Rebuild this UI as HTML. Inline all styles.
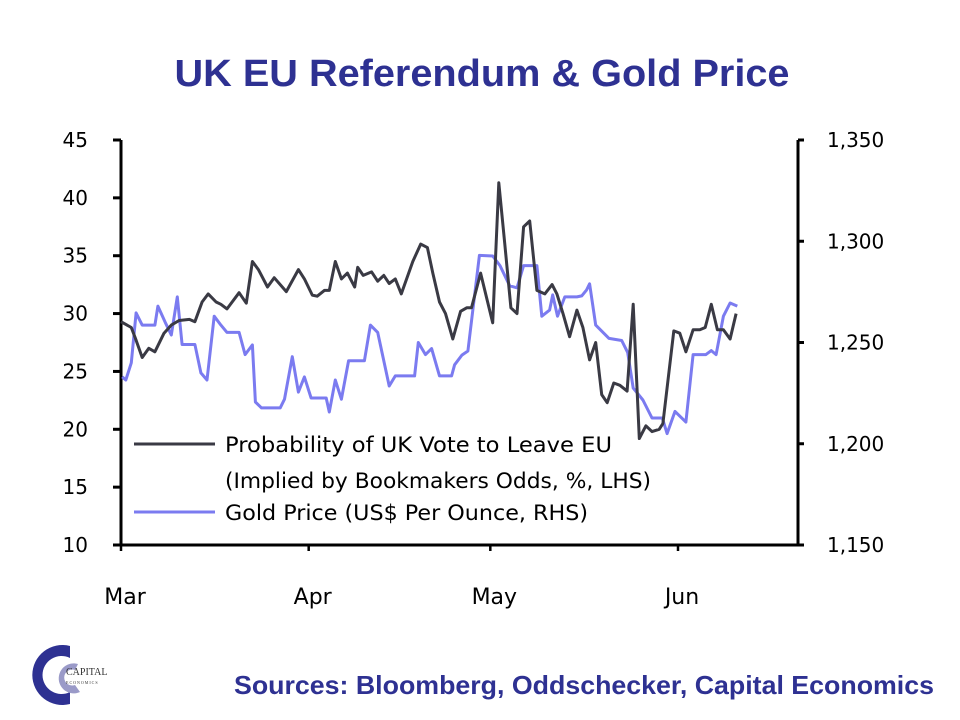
<!DOCTYPE html>
<html><head><meta charset="utf-8"><style>
html,body{margin:0;padding:0;background:#fff;width:960px;height:720px;overflow:hidden}
svg{display:block}
</style></head><body>
<svg id="chart" width="960" height="720" viewBox="0 0 960 720" xmlns="http://www.w3.org/2000/svg">
<text x="482" y="86" text-anchor="middle" font-family="Liberation Sans, sans-serif" font-weight="bold" font-size="38" textLength="615" lengthAdjust="spacingAndGlyphs" fill="#2e3192">UK EU Referendum &amp; Gold Price</text>
<g id="axes"></g>
<g id="series"></g>
<g font-family="DejaVu Sans, sans-serif" font-size="21" fill="#000">
<line x1="134" y1="444" x2="215" y2="444" stroke="#3a3a44" stroke-width="3"/>
<text x="225" y="452" textLength="387" lengthAdjust="spacingAndGlyphs">Probability  of UK Vote to Leave EU</text>
<text x="225" y="488" textLength="426" lengthAdjust="spacingAndGlyphs">(Implied by Bookmakers Odds, %, LHS)</text>
<line x1="134" y1="512" x2="215" y2="512" stroke="#7b7bf0" stroke-width="3"/>
<text x="225" y="520" textLength="363" lengthAdjust="spacingAndGlyphs">Gold Price (US$ Per Ounce, RHS)</text>
</g>
<g>
<path d="M70 646 A30 30 0 1 0 70 704 L70 692 A19 19 0 1 1 70 658 Z" fill="#2e3192"/>
<path d="M78 664 A15 15 0 1 0 80 692 L75 685 A8 8 0 1 1 75 670 Z" fill="#9a9ac8"/>
<text x="66" y="675" font-family="Liberation Serif, serif" font-size="10" fill="#333">CAPITAL</text>
<text x="66" y="684" font-family="Liberation Serif, serif" font-size="4" fill="#333" letter-spacing="1">ECONOMICS</text>
</g>
<text x="934" y="694" text-anchor="end" font-family="Liberation Sans, sans-serif" font-weight="bold" font-size="26" textLength="700" lengthAdjust="spacingAndGlyphs" fill="#2e3192">Sources: Bloomberg, Oddschecker, Capital Economics</text>
</svg>
<script>
// days since 1 March
const probDays = [0,1.7,2.5,3.5,4.6,5.6,7.1,8.3,9.6,11.3,12.2,13.4,14.4,15.7,16.5,17.5,19.5,20.7,21.7,22.7,24.2,25.3,27.3,29.3,30.3,31.6,32.4,33.6,34.4,35.4,36.4,37.4,38.6,39.1,40,41.4,42.4,43.4,44.3,45.3,46.3,48.2,49.5,50.6,51.5,52.6,53.6,54.8,56.1,57.1,57.9,59.4,61.4,62.4,63.4,64.4,65.4,66.5,67.5,68.7,70,71.2,72,73,74.1,75.3,76.3,77.4,78.4,79.4,80.3,81.4,82.4,83.6,84.6,85.6,86.7,87.7,88.9,89.5,91.3,92.3,93.3,94.5,95.6,96.5,97.5,98.5,99.5,100.6,101.6];
const probValues = [29.3,28.8,27.7,26.2,27,26.7,28.3,29,29.4,29.5,29.3,31,31.7,31,30.8,30.4,31.8,30.9,34.5,33.8,32.3,33.1,31.9,33.8,33,31.6,31.5,32,32,34.5,33,33.5,32.3,34,33.3,33.6,32.8,33.3,32.6,33,31.7,34.5,36,35.7,33.5,31,30,27.8,30.2,30.5,30.5,33.5,29.2,41.3,36,30.5,30,37.5,38,32,31.7,32.5,31.7,30,28,30.3,28.8,26,27.5,23,22.3,24,23.8,23.3,30.8,19.2,20.3,19.8,20,20.5,28.5,28.3,26.7,28.6,28.6,28.8,30.8,28.6,28.6,27.8,30];
const goldDays = [0.2,0.8,1.7,2.5,3.5,5.6,6.1,7.3,8.3,9.3,10.1,12.2,13.2,14.2,15.4,16.5,17.5,19.5,20.5,21.7,22.2,23.2,26.3,27,28.3,29.3,30.3,31.4,33.9,34.4,35.4,36.4,37.6,40.2,41.2,42.4,44.3,45.3,48.5,49.1,50.3,51.3,52.6,54.6,55.1,56.3,57.3,59.2,61.4,62.6,64.2,65.4,66.5,68.7,69.5,70.8,71.3,72.1,73.3,75.3,76.1,76.9,77.4,78.4,80.6,82.7,83.7,84.6,86.2,87.7,89.4,90.2,91.5,93.3,94.5,96.6,97.5,98.3,99.5,100.6,101.8];
const goldValues = [1233,1231.5,1240,1264.6,1258.6,1258.6,1268,1260,1253.7,1272.5,1249,1249,1235,1231.5,1263,1258.6,1255,1255,1244,1248.8,1220.6,1217.7,1217.7,1222,1243,1225.5,1233,1222.6,1222.6,1215.7,1231.5,1222,1241,1241,1258.6,1255,1228.5,1233.5,1233.5,1250,1244,1247,1233.5,1233.5,1239,1243.8,1245.8,1293,1292.7,1288,1278,1277,1288,1288,1263,1266,1273.5,1263,1272.5,1272.5,1273,1276,1279,1258.6,1252,1251,1245,1227.5,1221.6,1212.7,1212.7,1205,1216,1210.7,1244,1244,1246,1244,1263,1269.5,1268];
const leftTicks = [10,15,20,25,30,35,40,45];
const rightTicks = [1150,1200,1250,1300,1350];
const rightTickLabels = ["1,150","1,200","1,250","1,300","1,350"];
const monthLabels = ["Mar","Apr","May","Jun"];
const monthDays = [0,31,61,92];

const NS = "http://www.w3.org/2000/svg";
const X0 = 121, X1 = 798, YT = 140, YB = 545;
const xScale = d => X0 + d * (678 - X0) / 92;
const yLeft = v => YB - (v - 10) * (YB - YT) / 35;
const yRight = v => YB - (v - 1150) * (YB - YT) / 200;
function mk(tag, attrs, parent){const e=document.createElementNS(NS,tag);for(const k in attrs)e.setAttribute(k,attrs[k]);parent.appendChild(e);return e;}
const axes = document.getElementById('axes');
const font = "DejaVu Sans, Liberation Sans, sans-serif";
let e;
e = mk('line',{x1:X0,y1:YT,x2:X0,y2:YB,stroke:'#000','stroke-width':3},axes);


e = mk('line',{x1:X1,y1:YT,x2:X1,y2:YB,stroke:'#000','stroke-width':3},axes);


e = mk('line',{x1:X0,y1:YB,x2:X1+3,y2:YB,stroke:'#000','stroke-width':3},axes);


leftTicks.forEach(v=>{
  const y=yLeft(v);
  mk('line',{x1:113,y1:y,x2:X0,y2:y,stroke:'#000','stroke-width':3},axes);
  e = mk('text',{x:88,y:y+7,'text-anchor':'end','font-family':font,'font-size':20,fill:'#000'},axes);
  e.textContent=String(v);
  
  
});
rightTicks.forEach((v,i)=>{
  const y=yRight(v);
  mk('line',{x1:X1,y1:y,x2:X1+6,y2:y,stroke:'#000','stroke-width':3},axes);
  e = mk('text',{x:827,y:y+7,'font-family':font,'font-size':20,fill:'#000'},axes);
  e.textContent=rightTickLabels[i];
  
  
});
monthDays.forEach((d,i)=>{
  const x=xScale(d);
  mk('line',{x1:x,y1:YB,x2:x,y2:YB+6,stroke:'#000','stroke-width':2.5},axes);
  e = mk('text',{x:x+4,y:604,'text-anchor':'middle','font-family':font,'font-size':22,fill:'#000'},axes);
  e.textContent=monthLabels[i];
  
  
});
const series=document.getElementById('series');
const gp = goldDays.map((d,i)=>xScale(d).toFixed(1)+','+yRight(goldValues[i]).toFixed(1)).join(' ');
e = mk('polyline',{points:gp,fill:'none',stroke:'#7b7bf0','stroke-width':3,'stroke-linejoin':'round'},series);


const pp = probDays.map((d,i)=>xScale(d).toFixed(1)+','+yLeft(probValues[i]).toFixed(1)).join(' ');
e = mk('polyline',{points:pp,fill:'none',stroke:'#3a3a44','stroke-width':3,'stroke-linejoin':'round'},series);


</script>
</body></html>
